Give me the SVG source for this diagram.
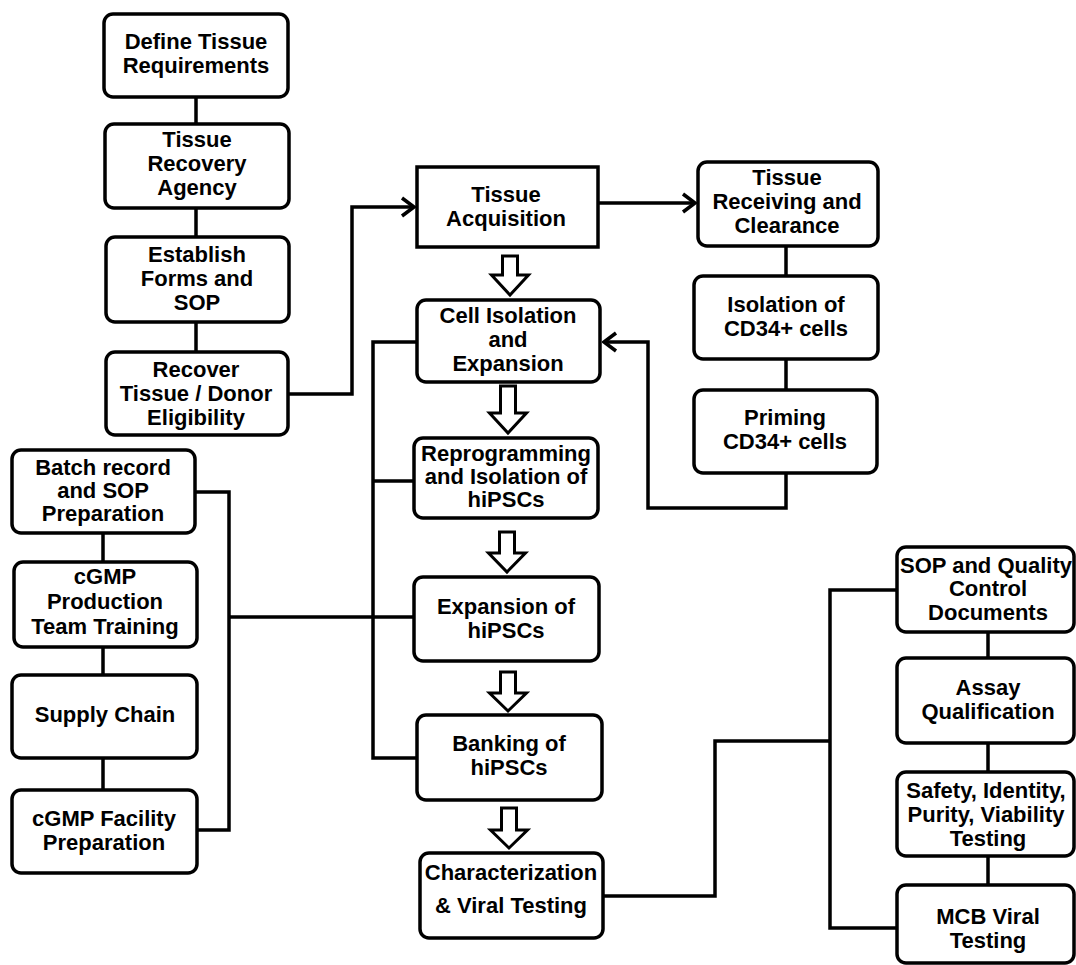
<svg xmlns="http://www.w3.org/2000/svg" width="1076" height="965" viewBox="0 0 1076 965">
<style>
.b{fill:#fff;stroke:#000;stroke-width:3.5}
.t{font-family:"Liberation Sans",Arial,sans-serif;font-weight:bold;font-size:22px;fill:#000;text-anchor:middle}
.c{fill:none;stroke:#000;stroke-width:3.5}
.h{fill:#fff;stroke:#000;stroke-width:3;stroke-linejoin:miter}
</style>
<defs>
<marker id="chev" viewBox="0 0 16 22" refX="14" refY="11" markerWidth="16" markerHeight="22" markerUnits="userSpaceOnUse" orient="auto">
<path d="M2,2 L14,11 L2,20" fill="none" stroke="#000" stroke-width="3.5"/>
</marker>
</defs>
<rect width="1076" height="965" fill="#fff"/>
<g id="connectors">
<path class="c" d="M196,97V124M196,208V237M196,322V352"/>
<path class="c" d="M103,533V562M103,647V675M103,758V790"/>
<path class="c" d="M786,246V276M786,359V390"/>
<path class="c" d="M988,632V658M988,743V772M988,856V885"/>
<path class="c" d="M288,394H352V207H414" marker-end="url(#chev)"/>
<path class="c" d="M598,203H695" marker-end="url(#chev)"/>
<path class="c" d="M786,473V508H648V342H604" marker-end="url(#chev)"/>
<path class="c" d="M417,342H373V758H417M373,481H414"/>
<path class="c" d="M195,492H229V830H197M229,617H414"/>
<path class="c" d="M603,896H715V741H830M897,590H830V928H897"/>
<polygon class="h" points="502.5,256 517.5,256 517.5,275 528.5,275 510,295 491.5,275 502.5,275"/>
<polygon class="h" points="500.5,386 515.5,386 515.5,413 526.5,413 508,433 489.5,413 500.5,413"/>
<polygon class="h" points="499.5,532 514.5,532 514.5,553 525.5,553 507,572 488.5,553 499.5,553"/>
<polygon class="h" points="500.5,672 515.5,672 515.5,693 526.5,693 508,711 489.5,693 500.5,693"/>
<polygon class="h" points="501.5,808 516.5,808 516.5,830 527.5,830 509,848 490.5,830 501.5,830"/>
</g>
<g id="define">
<rect class="b" x="104" y="14" width="184" height="83" rx="9"/>
<text class="t" x="196"><tspan x="196" y="49">Define Tissue</tspan><tspan x="196" y="73">Requirements</tspan></text>
</g>
<g id="recovery-agency">
<rect class="b" x="105" y="124" width="184" height="84" rx="9"/>
<text class="t"><tspan x="197" y="147">Tissue</tspan><tspan x="197" y="171">Recovery</tspan><tspan x="197" y="195">Agency</tspan></text>
</g>
<g id="establish">
<rect class="b" x="106" y="237" width="183" height="85" rx="9"/>
<text class="t"><tspan x="197" y="262">Establish</tspan><tspan x="197" y="286">Forms and</tspan><tspan x="197" y="310">SOP</tspan></text>
</g>
<g id="recover">
<rect class="b" x="106" y="352" width="182" height="83" rx="9"/>
<text class="t"><tspan x="196" y="377">Recover</tspan><tspan x="196" y="401">Tissue / Donor</tspan><tspan x="196" y="425">Eligibility</tspan></text>
</g>
<g id="acquisition">
<rect class="b" x="417" y="167" width="181" height="80"/>
<text class="t"><tspan x="506" y="202">Tissue</tspan><tspan x="506" y="226">Acquisition</tspan></text>
</g>
<g id="receiving">
<rect class="b" x="698" y="162" width="180" height="84" rx="9"/>
<text class="t"><tspan x="787" y="185">Tissue</tspan><tspan x="787" y="209">Receiving and</tspan><tspan x="787" y="233">Clearance</tspan></text>
</g>
<g id="isolation-cd34">
<rect class="b" x="694" y="276" width="184" height="83" rx="9"/>
<text class="t"><tspan x="786" y="312">Isolation of</tspan><tspan x="786" y="336">CD34+ cells</tspan></text>
</g>
<g id="priming">
<rect class="b" x="694" y="390" width="183" height="83" rx="9"/>
<text class="t"><tspan x="785" y="425">Priming</tspan><tspan x="785" y="449">CD34+ cells</tspan></text>
</g>
<g id="cell-isolation">
<rect class="b" x="417" y="300" width="183" height="82" rx="9"/>
<text class="t"><tspan x="508" y="323">Cell Isolation</tspan><tspan x="508" y="347">and</tspan><tspan x="508" y="371">Expansion</tspan></text>
</g>
<g id="reprogramming">
<rect class="b" x="414" y="438" width="184" height="80" rx="9"/>
<text class="t"><tspan x="506" y="461">Reprogramming</tspan><tspan x="506" y="484">and Isolation of</tspan><tspan x="506" y="507">hiPSCs</tspan></text>
</g>
<g id="expansion">
<rect class="b" x="414" y="577" width="185" height="84" rx="9"/>
<text class="t"><tspan x="506" y="614">Expansion of</tspan><tspan x="506" y="638">hiPSCs</tspan></text>
</g>
<g id="banking">
<rect class="b" x="417" y="715" width="185" height="85" rx="9"/>
<text class="t"><tspan x="509" y="751">Banking of</tspan><tspan x="509" y="775">hiPSCs</tspan></text>
</g>
<g id="characterization">
<rect class="b" x="420" y="853" width="183" height="85" rx="9"/>
<text class="t"><tspan x="511" y="880">Characterization</tspan><tspan x="511" y="913">&amp; Viral Testing</tspan></text>
</g>
<g id="batch-record">
<rect class="b" x="12" y="450" width="183" height="83" rx="9"/>
<text class="t"><tspan x="103" y="475">Batch record</tspan><tspan x="103" y="498">and SOP</tspan><tspan x="103" y="521">Preparation</tspan></text>
</g>
<g id="training">
<rect class="b" x="14" y="562" width="183" height="85" rx="9"/>
<text class="t"><tspan x="105" y="584">cGMP</tspan><tspan x="105" y="609">Production</tspan><tspan x="105" y="634">Team Training</tspan></text>
</g>
<g id="supply-chain">
<rect class="b" x="12" y="675" width="185" height="83" rx="9"/>
<text class="t" x="105" y="722">Supply Chain</text>
</g>
<g id="facility">
<rect class="b" x="12" y="790" width="185" height="83" rx="9"/>
<text class="t"><tspan x="104" y="826">cGMP Facility</tspan><tspan x="104" y="850">Preparation</tspan></text>
</g>
<g id="sop-qc">
<rect class="b" x="897" y="547" width="177" height="85" rx="9"/>
<text class="t"><tspan x="986" y="573">SOP and Quality</tspan><tspan x="988" y="596">Control</tspan><tspan x="988" y="620">Documents</tspan></text>
</g>
<g id="assay">
<rect class="b" x="897" y="658" width="177" height="85" rx="9"/>
<text class="t"><tspan x="988" y="695">Assay</tspan><tspan x="988" y="719">Qualification</tspan></text>
</g>
<g id="safety">
<rect class="b" x="897" y="772" width="177" height="84" rx="9"/>
<text class="t"><tspan x="986" y="798">Safety, Identity,</tspan><tspan x="986" y="822">Purity, Viability</tspan><tspan x="988" y="846">Testing</tspan></text>
</g>
<g id="mcb">
<rect class="b" x="897" y="885" width="177" height="78" rx="9"/>
<text class="t"><tspan x="988" y="924">MCB Viral</tspan><tspan x="988" y="948">Testing</tspan></text>
</g>
</svg>
